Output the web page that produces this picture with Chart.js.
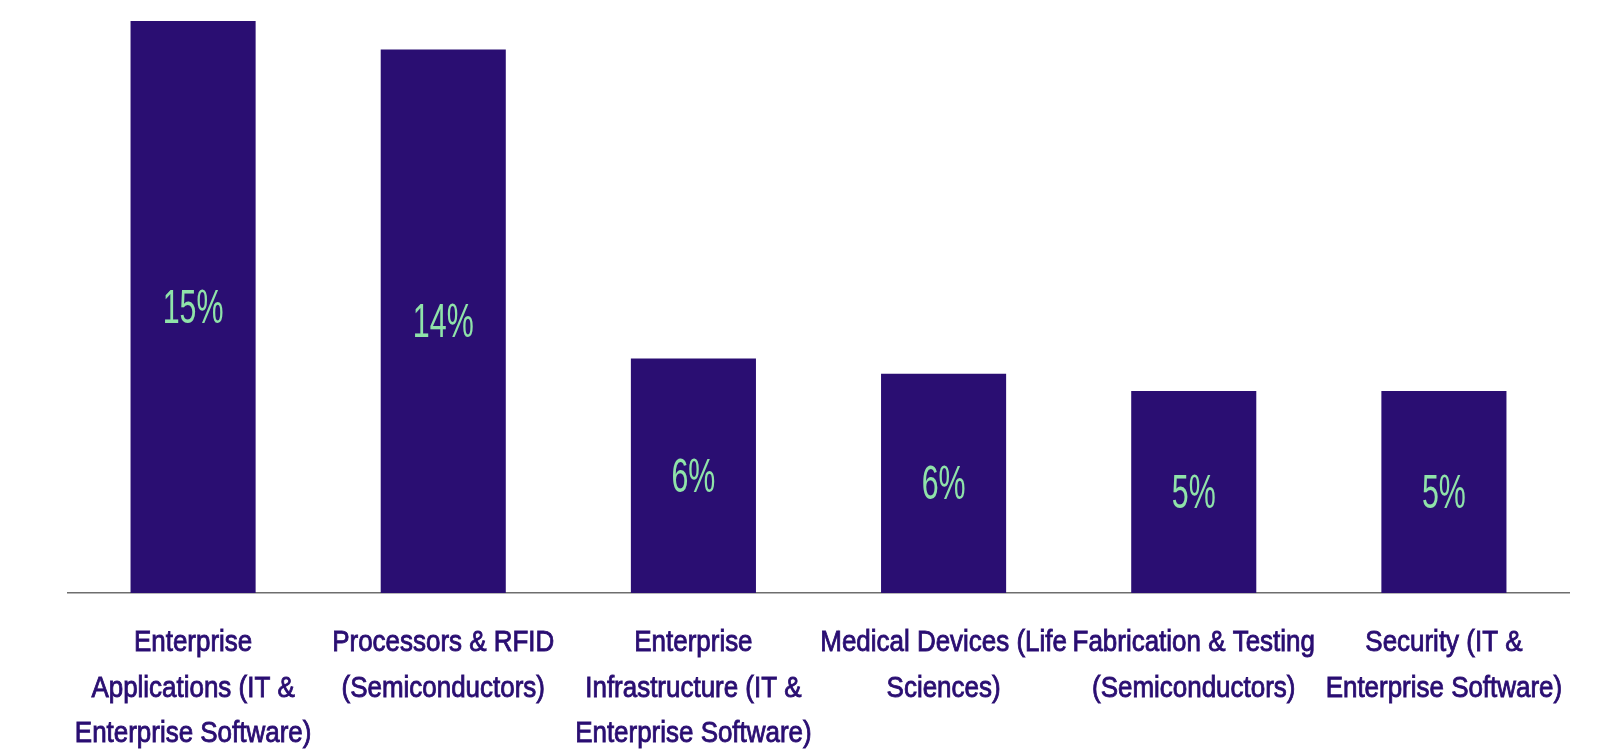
<!DOCTYPE html>
<html>
<head>
<meta charset="utf-8">
<script src="https://cdn.jsdelivr.net/npm/chart.js@4.4.1/dist/chart.umd.min.js"></script>
<style>
  html, body { margin: 0; padding: 0; background: #ffffff; }
  #wrap { width: 1599px; height: 753px; position: relative; }
</style>
</head>
<body>
<div id="wrap"><canvas id="chart"></canvas></div>
<script>
// Sectors and their share of the total (percent)
const categories = [
  ['Enterprise', 'Applications (IT &', 'Enterprise Software)'],
  ['Processors & RFID', '(Semiconductors)'],
  ['Enterprise', 'Infrastructure (IT &', 'Enterprise Software)'],
  ['Medical Devices (Life', 'Sciences)'],
  ['Fabrication & Testing', '(Semiconductors)'],
  ['Security (IT &', 'Enterprise Software)']
];
const shares = [15.0, 14.25, 6.15, 5.75, 5.3, 5.3];

const BAR_COLOR = '#2a0e72';
const TEXT_COLOR = '#2a0e72';
const VALUE_COLOR = '#8fe3a9';
const FONT_FAMILY = '"Liberation Sans", Arial, sans-serif';

// Draws text squeezed horizontally to get a condensed look
function condensedText(ctx, text, x, y, squeeze, strokeWidth) {
  ctx.save();
  ctx.translate(x, y);
  ctx.scale(squeeze, 1);
  ctx.fillText(text, 0, 0);
  if (strokeWidth) {
    ctx.lineWidth = strokeWidth;
    ctx.strokeText(text, 0, 0);
  }
  ctx.restore();
}

// Percentage written in the middle of each bar
const barValueLabels = {
  id: 'barValueLabels',
  afterDatasetsDraw(chart) {
    const ctx = chart.ctx;
    const meta = chart.getDatasetMeta(0);
    const data = chart.data.datasets[0].data;
    ctx.save();
    ctx.fillStyle = VALUE_COLOR;
    ctx.font = '400 49px ' + FONT_FAMILY;
    ctx.textAlign = 'center';
    ctx.textBaseline = 'alphabetic';
    meta.data.forEach((bar, i) => {
      const midY = (bar.y + bar.base) / 2;
      condensedText(ctx, Math.round(data[i]) + '%', bar.x, midY + 16, 0.62, 0);
    });
    ctx.restore();
  }
};

// Multi-line category names under the axis, condensed
const categoryLabels = {
  id: 'categoryLabels',
  afterDraw(chart) {
    const ctx = chart.ctx;
    const xScale = chart.scales.x;
    const firstBaseline = xScale.bottom + 58;
    const lineStep = 45.5;
    ctx.save();
    ctx.fillStyle = TEXT_COLOR;
    ctx.strokeStyle = TEXT_COLOR;
    ctx.font = '400 30px ' + FONT_FAMILY;
    ctx.textAlign = 'center';
    ctx.textBaseline = 'alphabetic';
    chart.data.labels.forEach((lines, i) => {
      const x = xScale.getPixelForValue(i);
      lines.forEach((line, j) => {
        condensedText(ctx, line, x, firstBaseline + j * lineStep, 0.865, 0.9);
      });
    });
    ctx.restore();
  }
};

new Chart(document.getElementById('chart'), {
  type: 'bar',
  data: {
    labels: categories,
    datasets: [{
      data: shares,
      backgroundColor: BAR_COLOR,
      borderWidth: 0,
      categoryPercentage: 0.5,
      barPercentage: 1.0
    }]
  },
  options: {
    responsive: true,
    maintainAspectRatio: false,
    animation: false,
    layout: { padding: { left: 68, right: 30, top: 21, bottom: 160 } },
    plugins: {
      legend: { display: false },
      tooltip: { enabled: false }
    },
    scales: {
      x: {
        grid: { display: false, drawTicks: false },
        border: { display: true, color: '#6e6e6e', width: 1.5 },
        ticks: { display: false }
      },
      y: {
        display: false,
        min: 0,
        max: shares[0]
      }
    }
  },
  plugins: [barValueLabels, categoryLabels]
});
</script>
</body>
</html>
